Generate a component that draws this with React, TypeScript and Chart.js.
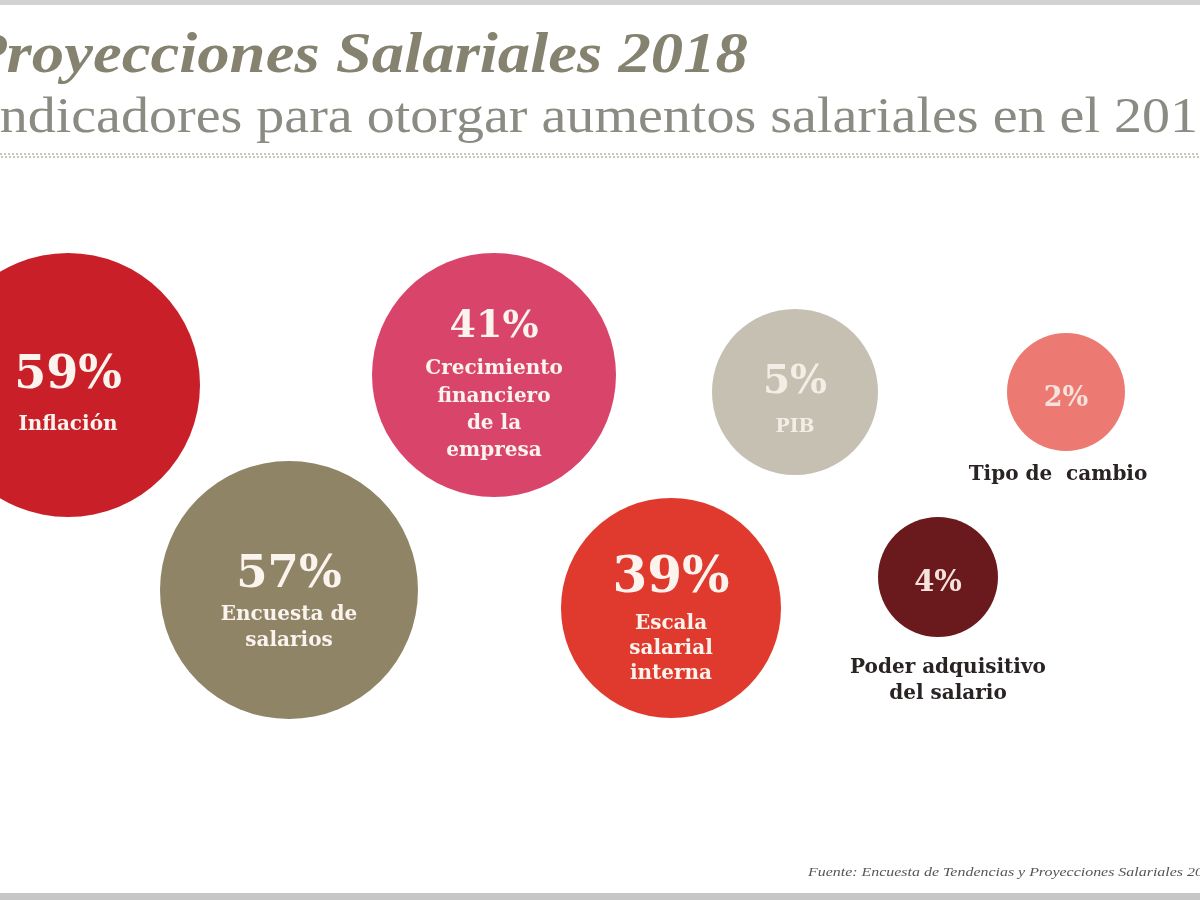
import React, { useEffect, useRef } from "react";
import { Chart, registerables } from "chart.js";

Chart.register(...registerables);

// ---------- data ----------
const categories = [
  "Inflación",
  "Encuesta de salarios",
  "Crecimiento financiero de la empresa",
  "PIB",
  "Tipo de cambio",
  "Escala salarial interna",
  "Poder adquisitivo del salario",
];
const values = [59, 57, 41, 5, 2, 39, 4];
// bubble placement in layout units (x: 0..120, y: 0..90)
const posX = [6.8, 28.9, 49.4, 79.5, 106.6, 67.1, 93.8];
const posY = [38.5, 59.0, 37.5, 39.2, 39.2, 60.8, 57.7];
const bubbleSizes = [132, 129, 122, 83, 59, 110, 60];
const colors = ["#c81f29", "#8f8466", "#d9456a", "#c5c0b2", "#ec7a72", "#e03a2e", "#6a1a1d"];

const labelLines = [
  ["Inflación"],
  ["Encuesta de", "salarios"],
  ["Crecimiento", "financiero", "de la", "empresa"],
  ["PIB"],
  ["Tipo de  cambio"],
  ["Escala", "salarial", "interna"],
  ["Poder adquisitivo", "del salario"],
];

const title = "Proyecciones Salariales 2018";
const subtitle = "Indicadores para otorgar aumentos salariales en el 2018";
const source = "Fuente: Encuesta de Tendencias y Proyecciones Salariales 2018";

// ---------- text styling (offsets relative to bubble center) ----------
const pctStyle = [
  { size: 46, dy: 3 },
  { size: 45, dy: -3 },
  { size: 38, dy: -38 },
  { size: 39, dy: 1 },
  { size: 27, dy: 14 },
  { size: 50, dy: -16 },
  { size: 29, dy: 14 },
];
const labelStyle = [
  { size: 20, dx: 0, dy: [45], inside: true },
  { size: 20, dx: 0, dy: [30, 56], inside: true },
  { size: 20, dx: 0, dy: [-1, 27, 54, 81], inside: true },
  { size: 19, dx: 0, dy: [40], inside: true },
  { size: 20, dx: -8, dy: [88], inside: false },
  { size: 20, dx: 0, dy: [21, 46, 71], inside: true },
  { size: 20, dx: 10, dy: [96, 122], inside: false },
];

function fitText(ctx: CanvasRenderingContext2D, text: string, x: number, y: number, sx: number) {
  ctx.save();
  ctx.translate(x, y);
  ctx.scale(sx, 1);
  ctx.fillText(text, 0, 0);
  ctx.restore();
}

const decorPlugin = {
  id: "decor",
  beforeDraw(chart: any) {
    const ctx: CanvasRenderingContext2D = chart.ctx;
    const W = chart.width;
    const H = chart.height;
    ctx.save();
    ctx.fillStyle = "#ffffff";
    ctx.fillRect(0, 0, W, H);
    // top border
    ctx.fillStyle = "#d2d2d2";
    ctx.fillRect(0, 0, W, 5);
    // bottom band
    ctx.fillStyle = "#c6c6c6";
    ctx.fillRect(0, H - 7, W, 7);
    // title
    ctx.textAlign = "left";
    ctx.textBaseline = "alphabetic";
    ctx.fillStyle = "#858370";
    ctx.font = "italic bold 57px 'Liberation Serif'";
    const tw = ctx.measureText(title).width;
    fitText(ctx, title, -33, 72, 781 / tw);
    // subtitle
    ctx.fillStyle = "#8b8b83";
    ctx.font = "50px 'Liberation Serif'";
    const sw = ctx.measureText("Indicadores para otorgar aumentos salariales en el 201").width;
    fitText(ctx, subtitle, -19, 132, 1217 / sw);
    // dotted rule
    ctx.strokeStyle = "#b8b3a4";
    ctx.lineWidth = 1.5;
    ctx.setLineDash([2, 2]);
    ctx.beginPath();
    ctx.moveTo(0, 154);
    ctx.lineTo(W, 154);
    ctx.moveTo(1, 157);
    ctx.lineTo(W, 157);
    ctx.stroke();
    ctx.setLineDash([]);
    // source
    ctx.fillStyle = "#555555";
    ctx.font = "italic 12px 'Liberation Serif'";
    const fw = ctx.measureText("Fuente: Encuesta de Tendencias y Proyecciones Salariales").width;
    fitText(ctx, source, 808, 876, 375 / fw);
    ctx.restore();
  },
  afterDatasetsDraw(chart: any) {
    const ctx: CanvasRenderingContext2D = chart.ctx;
    const meta = chart.getDatasetMeta(0);
    ctx.save();
    ctx.textAlign = "center";
    ctx.textBaseline = "alphabetic";
    meta.data.forEach((el: any, i: number) => {
      const ps = pctStyle[i];
      const ls = labelStyle[i];
      const light = i === 3 ? "#f2eee6" : i === 4 || i === 6 ? "#f6e2dc" : "#fbf3ee";
      ctx.fillStyle = light;
      ctx.font = `bold ${ps.size}px 'DejaVu Serif'`;
      ctx.fillText(`${values[i]}%`, el.x, el.y + ps.dy);
      ctx.fillStyle = ls.inside ? light : "#2a2323";
      ctx.font = `bold ${ls.size}px 'DejaVu Serif'`;
      labelLines[i].forEach((line, j) => {
        ctx.fillText(line, el.x + ls.dx, el.y + ls.dy[j]);
      });
    });
    ctx.restore();
  },
};

export default function App() {
  const ref = useRef<HTMLCanvasElement>(null);
  useEffect(() => {
    if (!ref.current) return;
    const chart = new Chart(ref.current, {
      type: "bubble",
      data: {
        labels: categories,
        datasets: [
          {
            label: "Indicadores",
            data: values.map((v, i) => ({ x: posX[i], y: posY[i], r: bubbleSizes[i] })),
            backgroundColor: colors,
            borderWidth: 0,
            hoverRadius: 0,
            clip: false as any,
          },
        ],
      },
      options: {
        responsive: false,
        animation: false,
        layout: { padding: 0, autoPadding: false },
        plugins: { legend: { display: false }, tooltip: { enabled: false }, title: { display: false } },
        scales: {
          x: { type: "linear", display: false, min: 0, max: 120 },
          y: { type: "linear", display: false, min: 0, max: 90, reverse: true },
        },
      },
      plugins: [decorPlugin],
    });
    return () => chart.destroy();
  }, []);
  return (
    <div style={{ position: "absolute", left: 0, top: 0, width: 1200, height: 900 }}>
      <canvas ref={ref} width={1200} height={900} style={{ display: "block" }} />
    </div>
  );
}
